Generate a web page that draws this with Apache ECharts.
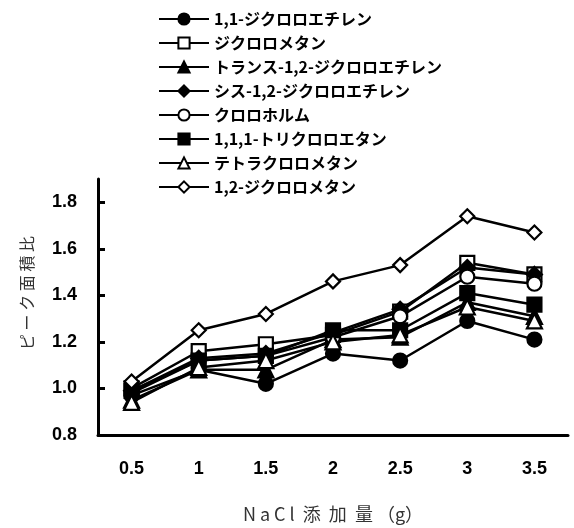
<!DOCTYPE html>
<html>
<head>
<meta charset="utf-8">
<script src="https://cdn.jsdelivr.net/npm/echarts@6/dist/echarts.min.js"></script>
<style>
  html, body { margin: 0; padding: 0; background: #fff; }
  #chart { width: 574px; height: 528px; }
</style>
</head>
<body>
<div id="chart"></div>
<script>
// NaCl amount (g) on the category axis
const categories = ['0.5', '1', '1.5', '2', '2.5', '3', '3.5'];
// labelled ticks on the value axis
const yTickValues = [0.8, 1.0, 1.2, 1.4, 1.6, 1.8];

// peak area ratio for each compound
const dce11     = [0.97, 1.08, 1.02, 1.15, 1.12, 1.29, 1.21]; // 1,1-ジクロロエチレン
const dcm       = [1.00, 1.16, 1.19, 1.23, 1.33, 1.54, 1.49]; // ジクロロメタン
const transDce  = [0.95, 1.08, 1.08, 1.21, 1.22, 1.37, 1.31]; // トランス-1,2-ジクロロエチレン
const cisDce    = [0.99, 1.13, 1.15, 1.24, 1.34, 1.52, 1.49]; // シス-1,2-ジクロロエチレン
const chloroform= [0.98, 1.12, 1.14, 1.22, 1.31, 1.48, 1.45]; // クロロホルム
const tca111    = [0.99, 1.12, 1.14, 1.25, 1.25, 1.41, 1.36]; // 1,1,1-トリクロロエタン
const ctc       = [0.94, 1.09, 1.12, 1.20, 1.23, 1.35, 1.29]; // テトラクロロメタン
const dcm12     = [1.03, 1.25, 1.32, 1.46, 1.53, 1.74, 1.67]; // 1,2-ジクロロメタン

const seriesNames = [
  '1,1-ジクロロエチレン',
  'ジクロロメタン',
  'トランス-1,2-ジクロロエチレン',
  'シス-1,2-ジクロロエチレン',
  'クロロホルム',
  '1,1,1-トリクロロエタン',
  'テトラクロロメタン',
  '1,2-ジクロロメタン'
];
const seriesValues = [dce11, dcm, transDce, cisDce, chloroform, tca111, ctc, dcm12];
// marker shape and whether it is hollow
const markers = [
  { symbol: 'circle',   filled: true,  size: 14 },
  { symbol: 'rect',     filled: false, size: 14 },
  { symbol: 'triangle', filled: true,  size: 15 },
  { symbol: 'diamond',  filled: true,  size: 15 },
  { symbol: 'circle',   filled: false, size: 14 },
  { symbol: 'rect',     filled: true,  size: 14 },
  { symbol: 'triangle', filled: false, size: 15 },
  { symbol: 'diamond',  filled: false, size: 14 }
];

const series = seriesNames.map((name, i) => ({
  name: name,
  type: 'line',
  data: seriesValues[i],
  symbol: markers[i].symbol,
  symbolSize: markers[i].size,
  showAllSymbol: true,
  animation: false,
  lineStyle: { color: '#000', width: 2.5 },
  itemStyle: {
    color: markers[i].filled ? '#000' : '#fff',
    borderColor: '#000',
    borderWidth: 2.2
  },
  emphasis: { disabled: true }
}));

const labelFont = { fontFamily: '"Liberation Sans", Arial, sans-serif', fontWeight: 'bold', fontSize: 18, color: '#000' };

const chart = echarts.init(document.getElementById('chart'), null, { renderer: 'canvas' });
chart.setOption({
  backgroundColor: '#fff',
  animation: false,
  legend: {
    orient: 'vertical',
    left: 158,
    top: 11,
    padding: 0,
    itemWidth: 50,
    itemHeight: 14,
    itemGap: 8,
    selectedMode: false,
    textStyle: {
      fontFamily: '"Noto Sans CJK JP", sans-serif',
      fontWeight: 'bold',
      fontSize: 16,
      lineHeight: 16,
      color: '#000'
    },
    data: seriesNames
  },
  grid: { left: 98, top: 179, width: 470, height: 266, containLabel: false },
  xAxis: {
    type: 'category',
    data: categories,
    boundaryGap: true,
    name: 'N a C l  添  加  量 （g）',
    nameLocation: 'middle',
    nameGap: 70,
    nameTextStyle: { fontFamily: '"Noto Sans CJK JP", sans-serif', fontSize: 18, color: '#333' },
    axisLine: { lineStyle: { color: '#000', width: 3 } },
    axisTick: { inside: true, length: 7, lineStyle: { color: '#000', width: 3 } },
    axisLabel: Object.assign({ margin: 25 }, labelFont),
    splitLine: { show: false }
  },
  yAxis: {
    type: 'value',
    min: 0.8,
    max: 1.9,
    interval: 0.2,
    name: 'ピ ー ク 面 積 比',
    nameLocation: 'middle',
    nameGap: 63,
    nameRotate: 90,
    nameTextStyle: {
      fontFamily: '"Noto Sans CJK JP", sans-serif', fontSize: 16, color: '#333',
      padding: [0, 0, 0, 28]
    },
    axisLine: { show: true, lineStyle: { color: '#000', width: 3 } },
    axisTick: { show: true, inside: true, length: 7, customValues: yTickValues, lineStyle: { color: '#000', width: 3 } },
    axisLabel: Object.assign({
      margin: 21,
      customValues: yTickValues,
      formatter: v => v.toFixed(1)
    }, labelFont),
    splitLine: { show: false }
  },
  series: series
});
</script>
</body>
</html>
